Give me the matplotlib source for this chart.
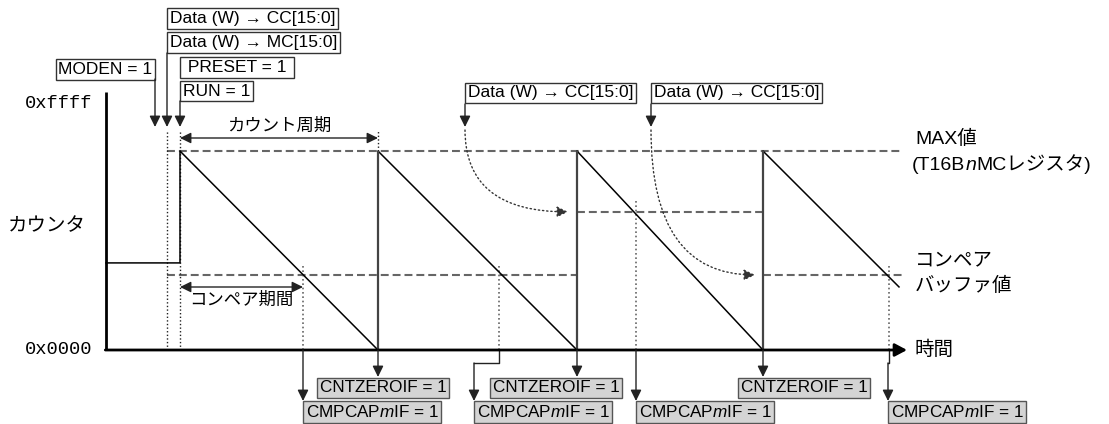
import matplotlib
matplotlib.use('Agg')
import matplotlib.pyplot as plt
import matplotlib.transforms as mtransforms

plt.rcParams['font.family'] = ['Liberation Sans', 'Noto Sans CJK JP', 'DejaVu Sans']
plt.rcParams['mathtext.fontset'] = 'custom'
plt.rcParams['mathtext.rm'] = 'Liberation Sans'
plt.rcParams['mathtext.it'] = 'Liberation Sans:italic'

# counter waveform (time in arbitrary units, counter in counts)
counter_t = [0, 74, 74, 272, 272, 471, 471, 657, 657, 793]
counter_v = [23200, 23200, 53000, 0, 53000, 0, 53000, 0, 53000, 16800]
reload_t = [272, 471, 657]
mc_value = 53000
mc_span = [61, 797]
cc_t = [61, 471, 657, 797]
cc_v = [20000, 36800, 20000]
cmp_t = [197, 393, 530, 783]
cmp_v = [20000, 20000, 36800, 20000]
moden_t = 49
write_t = 61
run_t = 74
cc_write_t = [359, 545]
cc_write_target_t = [462, 649]
time_end = 801
axis_top = 68700
dot_top = 58600

cnt_label = 'CNTZEROIF = 1'
cmp_label = 'CMPCAP$m$IF = 1'
cnt_box_left = [211, 384, 632]
cmp_box_left = [197, 368, 530, 782]

W, H = 1109, 424
cpp = 266.4  # counts per pixel
fig = plt.figure(figsize=(W / 100, H / 100), dpi=100)
ax = fig.add_axes([0, 0, 1, 1])
ax.set_xlim(-106, W - 106)
ax.set_ylim(-74 * cpp, 350 * cpp)
ax.axis('off')

# x, y in pixels from top-left / x in data, y in pixels
top_px = mtransforms.Affine2D().scale(1 / W, -1 / H).translate(0, 1) + fig.transFigure
tx = mtransforms.blended_transform_factory(ax.transData, top_px)

DASH = (0, (3.8, 1.9))
DOT = (0, (1, 1.6))
HEAD = '-|>,head_length=0.55,head_width=0.27'


def arrow(xy0, xy1, c0=tx, c1=tx, style=HEAD, **kw):
    props = dict(arrowstyle=style, color='#222', lw=1, shrinkA=0, shrinkB=0,
                 mutation_scale=12)
    props.update(kw)
    ax.annotate('', xy=xy1, xycoords=c1, xytext=xy0, textcoords=c0,
                arrowprops=props)


def box(x, y, s, ha='left', fc='white', ec='#333', fs=12.5, pad=0.15):
    dx = pad * fs if ha == 'left' else -pad * fs
    ax.annotate(s, xy=(x, y), xycoords=tx, xytext=(dx, 0),
                textcoords='offset points', ha=ha, va='center', fontsize=fs,
                bbox=dict(boxstyle=f'square,pad={pad}', fc=fc, ec=ec, lw=1))


# axes
ax.plot([0, 0], [0, axis_top], color='k', lw=2, solid_capstyle='butt')
arrow((-0.7, 0), (time_end, 0), c0='data', c1='data',
      style='-|>,head_length=0.6,head_width=0.32', lw=2, color='k')
ax.text(-14, 65535, '0xffff', ha='right', va='center',
        family='Liberation Mono', fontsize=13.5)
ax.text(-14, 0, '0x0000', ha='right', va='center',
        family='Liberation Mono', fontsize=13.5)
ax.text(8, 227, 'カウンタ', transform=top_px, va='center', fontsize=14)
ax.text(915, 350, '時間', transform=top_px, va='center', fontsize=14)

# reference levels
ax.plot(mc_span, [mc_value] * 2, color='#666', lw=1.5, ls=DASH)
for i in range(len(cc_v)):
    ax.plot(cc_t[i:i + 2], [cc_v[i]] * 2, color='#666', lw=1.5, ls=DASH)

# dotted guides
ax.vlines([write_t, run_t], 0, dot_top, color='#222', lw=1, ls=DOT)
ax.vlines(reload_t[0], mc_value, dot_top, color='#222', lw=1, ls=DOT)
for t, v in zip(cmp_t, cmp_v):
    ax.vlines(t, 0, v + 3000, color='#666', lw=1.2, ls=DOT)

# counter
ax.plot(counter_t, counter_v, color='k', lw=1.1)
ax.vlines(reload_t, 0, mc_value, color='#444', lw=1.6)

# periods
arrow((run_t, 138), (reload_t[0], 138), style='<|-|>,head_length=0.55,head_width=0.27')
ax.text((run_t + reload_t[0]) / 2, 126, 'カウント周期', transform=tx,
        ha='center', va='center', fontsize=12.5)
arrow((run_t, 287), (cmp_t[0], 287), style='<|-|>,head_length=0.55,head_width=0.27')
ax.text((run_t + cmp_t[0]) / 2, 300, 'コンペア期間', transform=tx,
        ha='center', va='center', fontsize=12.5)

# top register writes
box(write_t, 18.5, 'Data (W) → CC[15:0]')
box(write_t, 42.5, 'Data (W) → MC[15:0]')
box(moden_t, 69.5, 'MODEN = 1', ha='right')
box(run_t, 67.5, ' PRESET = 1 ')
box(run_t, 91, 'RUN = 1')
arrow((moden_t, 79), (moden_t, 127))
arrow((write_t, 53), (write_t, 127))
arrow((run_t, 101), (run_t, 127))
for t0, t1, v1 in zip(cc_write_t, cc_write_target_t, [cc_v[1], cc_v[2]]):
    box(t0, 93, 'Data (W) → CC[15:0]')
    arrow((t0, 104), (t0, 127))
    arrow((t0, 130), (t1, v1), c1='data', color='#333', ls=(0, (1, 2)),
          connectionstyle='angle3,angleA=90,angleB=0')

# right labels
ax.text(915, 139, 'MAX値', transform=top_px, va='center', fontsize=14)
t1 = ax.text(912, 166, '(T16B', transform=top_px, va='center', fontsize=14)
t2 = ax.annotate('n', xy=(1, 0), xycoords=t1, va='bottom', ha='left',
                 fontsize=14, style='italic')
ax.annotate('MCレジスタ)', xy=(1, 0), xycoords=t2, va='bottom', ha='left',
            fontsize=14)
ax.text(915, 261, 'コンペア', transform=top_px, va='center', fontsize=14)
ax.text(915, 286, 'バッファ値', transform=top_px, va='center', fontsize=14)

# interrupt flags
for t, x in zip(reload_t, cnt_box_left):
    arrow((t, 350), (t, 377))
    box(x, 388, cnt_label, fc='#d4d4d4', ec='#555', fs=12.3)
for i, (t, x) in enumerate(zip(cmp_t, cmp_box_left)):
    if x == t:
        arrow((t, 350), (t, 401))
    else:
        ax.plot([t, t, x], [350, 363, 363], color='#222', lw=1, transform=tx)
        arrow((x, 363), (x, 401))
    box(x, 412, cmp_label, fc='#d4d4d4', ec='#555', fs=12.3)

fig.savefig('out.png', dpi=100)
